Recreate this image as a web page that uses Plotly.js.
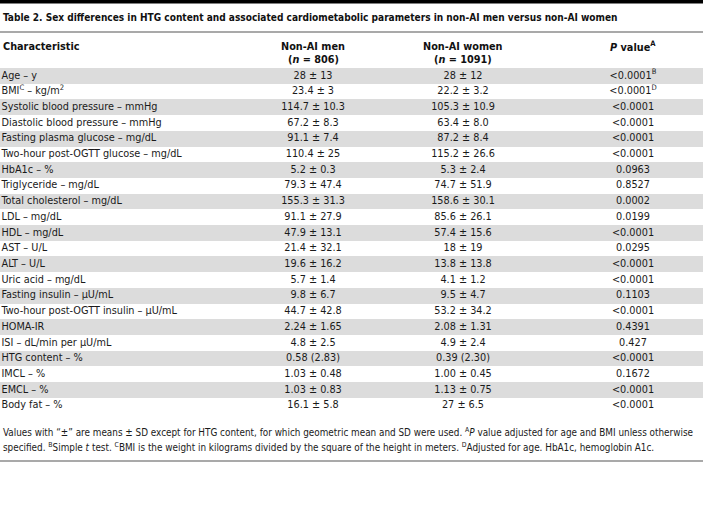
<!DOCTYPE html>
<html>
<head>
<meta charset="utf-8">
<script src="https://cdn.plot.ly/plotly-3.0.1.min.js"></script>
<style>html,body{margin:0;padding:0;background:#fff;}#chart{width:703px;height:523px;}</style>
</head>
<body>
<div id="chart"></div>
<script>
const titleText = "Table 2. Sex differences in HTG content and associated cardiometabolic parameters in non-AI men versus non-AI women";
const headerLabels = ["Characteristic", "Non-AI men", "Non-AI women", "<i>P</i> value<sup>A</sup>"];
const headerCounts = ["", "(<i>n</i> = 806)", "(<i>n</i> = 1091)", ""];
const characteristics = [
  "Age – y", "BMI<sup>C</sup> – kg/m<sup>2</sup>", "Systolic blood pressure – mmHg", "Diastolic blood pressure – mmHg",
  "Fasting plasma glucose – mg/dL", "Two-hour post-OGTT glucose – mg/dL", "HbA1c – %", "Triglyceride – mg/dL",
  "Total cholesterol – mg/dL", "LDL – mg/dL", "HDL – mg/dL", "AST – U/L", "ALT – U/L", "Uric acid – mg/dL",
  "Fasting insulin – μU/mL", "Two-hour post-OGTT insulin – μU/mL", "HOMA-IR", "ISI – dL/min per μU/mL",
  "HTG content – %", "IMCL – %", "EMCL – %", "Body fat – %"
];
const menValues = [
  "28 ± 13", "23.4 ± 3", "114.7 ± 10.3", "67.2 ± 8.3", "91.1 ± 7.4", "110.4 ± 25", "5.2 ± 0.3", "79.3 ± 47.4",
  "155.3 ± 31.3", "91.1 ± 27.9", "47.9 ± 13.1", "21.4 ± 32.1", "19.6 ± 16.2", "5.7 ± 1.4", "9.8 ± 6.7",
  "44.7 ± 42.8", "2.24 ± 1.65", "4.8 ± 2.5", "0.58 (2.83)", "1.03 ± 0.48", "1.03 ± 0.83", "16.1 ± 5.8"
];
const womenValues = [
  "28 ± 12", "22.2 ± 3.2", "105.3 ± 10.9", "63.4 ± 8.0", "87.2 ± 8.4", "115.2 ± 26.6", "5.3 ± 2.4", "74.7 ± 51.9",
  "158.6 ± 30.1", "85.6 ± 26.1", "57.4 ± 15.6", "18 ± 19", "13.8 ± 13.8", "4.1 ± 1.2", "9.5 ± 4.7",
  "53.2 ± 34.2", "2.08 ± 1.31", "4.9 ± 2.4", "0.39 (2.30)", "1.00 ± 0.45", "1.13 ± 0.75", "27 ± 6.5"
];
const pValues = [
  "<0.0001<sup>B</sup>", "<0.0001<sup>D</sup>", "<0.0001", "<0.0001", "<0.0001", "<0.0001", "0.0963", "0.8527",
  "0.0002", "0.0199", "<0.0001", "0.0295", "<0.0001", "<0.0001", "0.1103", "<0.0001", "0.4391", "0.427",
  "<0.0001", "0.1672", "<0.0001", "<0.0001"
];
const footnote1 = "Values with “±” are means ± SD except for HTG content, for which geometric mean and SD were used. <sup>A</sup><i>P</i> value adjusted for age and BMI unless otherwise";
const footnote2 = "specified. <sup>B</sup>Simple <i>t</i> test. <sup>C</sup>BMI is the weight in kilograms divided by the square of the height in meters. <sup>D</sup>Adjusted for age. HbA1c, hemoglobin A1c.";

const FONT = "'Liberation Sans Narrow', 'DejaVu Sans Condensed', sans-serif";
const W = 703, H = 523;
const TXT = "#1a1a1a";
const BODY = 10.8;
// layout constants (pixels)
const colX = [1.5, 313, 463, 633];
const rowsTop = 68, rowsBottom = 413.5;
const rowIdx = characteristics.map((_, i) => i);
const bandColors = rowIdx.map(i => i % 2 === 0 ? "#dcdcdc" : "#ffffff");
const py = p => 1 - p / H;

const bands = {
  type: "bar", orientation: "h",
  y: characteristics, x: characteristics.map(() => W), base: 0,
  width: 1, marker: {color: bandColors, line: {width: 0}},
  hoverinfo: "skip", showlegend: false
};
function textCol(vals, x, pos) {
  return {
    type: "scatter", mode: "text", y: characteristics, x: vals.map(() => x),
    text: vals, textposition: pos, cliponaxis: false,
    textfont: {family: FONT, size: BODY, color: TXT},
    hoverinfo: "skip", showlegend: false
  };
}
const traces = [
  bands,
  textCol(characteristics, colX[0], "middle right"),
  textCol(menValues, colX[1], "middle center"),
  textCol(womenValues, colX[2], "middle center"),
  textCol(pValues, colX[3], "middle center")
];

const annotations = [
  {xref: "paper", yref: "paper", x: 0.5 / W, y: py(17), xanchor: "left", yanchor: "middle", showarrow: false,
   text: "<b>" + titleText + "</b>", font: {family: FONT, size: 10.05, color: "#111"}},
  {xref: "paper", yref: "paper", x: 1 / W, y: py(432), xanchor: "left", yanchor: "middle", showarrow: false,
   text: footnote1, font: {family: FONT, size: 9.85, color: TXT}},
  {xref: "paper", yref: "paper", x: 1 / W, y: py(447), xanchor: "left", yanchor: "middle", showarrow: false,
   text: footnote2, font: {family: FONT, size: 9.85, color: TXT}}
];
headerLabels.forEach((h, i) => {
  annotations.push({xref: "paper", yref: "paper", x: (i === 0 ? 1 : colX[i]) / W, y: py(46), xanchor: i === 0 ? "left" : "center",
    yanchor: "middle", showarrow: false, text: "<b>" + h + "</b>", font: {family: FONT, size: BODY, color: "#111"}});
  if (headerCounts[i]) {
    annotations.push({xref: "paper", yref: "paper", x: colX[i] / W, y: py(59), xanchor: "center",
      yanchor: "middle", showarrow: false, text: "<b>" + headerCounts[i] + "</b>", font: {family: FONT, size: BODY, color: "#111"}});
  }
});

const layout = {
  width: W, height: H,
  margin: {l: 0, r: 0, t: 0, b: 0, pad: 0},
  paper_bgcolor: "#ffffff", plot_bgcolor: "rgba(0,0,0,0)",
  showlegend: false, bargap: 0,
  xaxis: {range: [0, W], visible: false, fixedrange: true, domain: [0, 1]},
  yaxis: {type: "category", categoryorder: "array", categoryarray: characteristics,
          range: [characteristics.length - 0.5, -0.5], visible: false, fixedrange: true,
          domain: [py(rowsBottom), py(rowsTop)]},
  shapes: [
    {type: "rect", xref: "paper", yref: "paper", x0: 0, x1: 1, y0: py(3.5), y1: 1, fillcolor: "#000", line: {width: 0}},
    {type: "line", xref: "paper", yref: "paper", x0: 0, x1: 1, y0: py(32), y1: py(32), line: {color: "#555", width: 1.2}},
    {type: "line", xref: "paper", yref: "paper", x0: 0, x1: 1, y0: py(461), y1: py(461), line: {color: "#555", width: 1.2}}
  ],
  annotations: annotations
};

Plotly.newPlot("chart", traces, layout, {displayModeBar: false, staticPlot: true});
</script>
</body>
</html>
